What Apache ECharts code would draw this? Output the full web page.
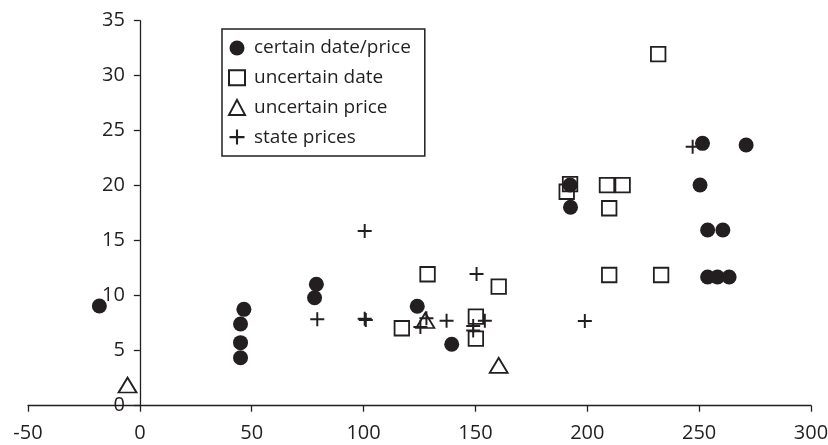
<!DOCTYPE html>
<html>
<head>
<meta charset="utf-8">
<script src="https://cdn.jsdelivr.net/npm/echarts@6/dist/echarts.min.js"></script>
<style>
html,body{margin:0;padding:0;background:#fff;}
#chart{width:828px;height:445px;}
</style>
</head>
<body>
<div id="chart"></div>
<script>
var xTicks = [-50, 0, 50, 100, 150, 200, 250, 300];
var yTicks = [0, 5, 10, 15, 20, 25, 30, 35];
var seriesNames = ['certain date/price', 'uncertain date', 'uncertain price', 'state prices'];

var certainDatePrice = [
  [-18.1, 9.06], [46.5, 8.76], [45.0, 7.43], [45.0, 5.73], [45.0, 4.36],
  [78.9, 11.04], [78.1, 9.82], [124.0, 9.04], [139.4, 5.58],
  [192.3, 20.06], [192.5, 18.04], [251.5, 23.85], [271.0, 23.70],
  [250.4, 20.06], [253.8, 15.97], [260.6, 15.97],
  [253.8, 11.7], [258.2, 11.7], [263.4, 11.7]
];
var uncertainDate = [
  [117.1, 7.04], [128.6, 11.95], [160.4, 10.82], [150.2, 8.09], [150.2, 6.1],
  [231.7, 31.97], [192.3, 20.15], [190.8, 19.45], [208.8, 20.06], [215.8, 20.06],
  [209.8, 17.95], [209.8, 11.88], [233.0, 11.88]
];
var uncertainPrice = [
  [-5.5, 1.88], [127.6, 7.75], [160.4, 3.67]
];
var statePrices = [
  [79.3, 7.85], [100.5, 7.9], [101.0, 7.8], [100.5, 15.88], [125.4, 7.15],
  [128.1, 7.95], [137.1, 7.73], [150.5, 11.97], [154.2, 7.73], [149.0, 7.25],
  [149.0, 6.84], [198.9, 7.7], [247.1, 23.55]
];

var ink = '#231f20';
var font = '"Open Sans", "DejaVu Sans", sans-serif';
var plusPath = 'path://M4.3,0H5.7V4.3H10V5.7H5.7V10H4.3V5.7H0V4.3H4.3Z';

var W = 828, gridLeft = 28, gridRight = 17;
var xMin = xTicks[0], xMax = xTicks[xTicks.length - 1];
// place the y axis (line, ticks, labels) on x = 0
var yAxisOffset = -((0 - xMin) / (xMax - xMin)) * (W - gridLeft - gridRight);

var chart = echarts.init(document.getElementById('chart'), null, {renderer: 'canvas'});
chart.setOption({
  animation: false,
  backgroundColor: '#ffffff',
  grid: {left: gridLeft, right: gridRight, top: 20.7, bottom: 39.3, containLabel: false, outerBoundsMode: 'none'},
  legend: {
    orient: 'vertical',
    left: 222, top: 29,
    padding: [9, 14, 9, 6],
    borderColor: ink, borderWidth: 1.5,
    itemWidth: 16, itemHeight: 15, itemGap: 9.7,
    textStyle: {color: ink, fontFamily: font, fontSize: 19, lineHeight: 20, padding: [0, 0, 0, 4]},
    data: seriesNames
  },
  xAxis: {
    type: 'value', min: xMin, max: xMax, interval: 50,
    splitLine: {show: false},
    axisLine: {lineStyle: {color: ink, width: 1.3}},
    axisTick: {show: true, length: 6, inside: false, lineStyle: {color: ink, width: 1.3}},
    axisLabel: {color: ink, fontFamily: font, fontSize: 20, lineHeight: 20, margin: 18}
  },
  yAxis: {
    type: 'value', min: yTicks[0], max: yTicks[yTicks.length - 1], interval: 5,
    offset: yAxisOffset,
    splitLine: {show: false},
    axisLine: {show: true, onZero: false, lineStyle: {color: ink, width: 1.3}},
    axisTick: {show: true, length: 6, inside: false, lineStyle: {color: ink, width: 1.3}},
    axisLabel: {color: ink, fontFamily: font, fontSize: 20, margin: 15}
  },
  series: [
    {
      name: seriesNames[0], type: 'scatter', data: certainDatePrice,
      symbol: 'circle', symbolSize: 15,
      itemStyle: {color: ink, opacity: 1}
    },
    {
      name: seriesNames[1], type: 'scatter', data: uncertainDate,
      symbol: 'rect', symbolSize: 14.5,
      itemStyle: {color: 'rgba(255,255,255,0)', borderColor: ink, borderWidth: 1.8, opacity: 1}
    },
    {
      name: seriesNames[2], type: 'scatter', data: uncertainPrice,
      symbol: 'triangle', symbolSize: [18, 15],
      itemStyle: {color: 'rgba(255,255,255,0)', borderColor: ink, borderWidth: 1.8, opacity: 1}
    },
    {
      name: seriesNames[3], type: 'scatter', data: statePrices,
      symbol: plusPath, symbolSize: 14,
      itemStyle: {color: ink, opacity: 1}
    }
  ]
});
</script>
</body>
</html>
